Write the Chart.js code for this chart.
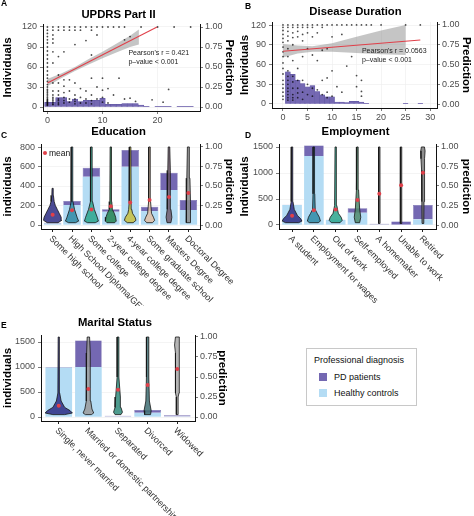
<!DOCTYPE html>
<html>
<head>
<meta charset="utf-8">
<script src="https://cdn.jsdelivr.net/npm/chart.js@4.4.0/dist/chart.umd.min.js"></script>
<style>
  body { margin: 0; background: #fff; font-family: "Liberation Sans", Arial, sans-serif; }
  #wrap { position: relative; width: 474px; height: 516px; overflow: hidden; }
  canvas { position: absolute; }
  .tag { position: absolute; font-weight: bold; font-size: 8.5px; line-height: 1; }
  .key { position: absolute; font-size: 9px; line-height: 1; color: #111; white-space: nowrap; }
  .sw { position: absolute; width: 8px; height: 8px; }
</style>
</head>
<body>
<div id="wrap">
  <canvas id="cA" width="237" height="128" style="left:0;top:0"></canvas>
  <canvas id="cB" width="237" height="128" style="left:237px;top:0"></canvas>
  <canvas id="cC" width="237" height="186" style="left:0;top:120px"></canvas>
  <canvas id="cD" width="237" height="186" style="left:237px;top:120px"></canvas>
  <canvas id="cE" width="230" height="206" style="left:0;top:310px"></canvas>

  <div class="tag" style="left:1px;top:-1px">A</div>
  <div class="tag" style="left:245px;top:2px">B</div>
  <div class="tag" style="left:1px;top:131px">C</div>
  <div class="tag" style="left:245px;top:131px">D</div>
  <div class="tag" style="left:1px;top:321px">E</div>

  <!-- mean key of panel C -->
  <div style="position:absolute;left:43px;top:151px;width:4px;height:4px;border-radius:2px;background:#e0404a"></div>
  <div class="key" style="left:49px;top:148.5px;font-size:8.5px">mean</div>

  <!-- diagnosis legend -->
  <div style="position:absolute;left:306px;top:348px;width:109px;height:56px;border:1px solid #c8c8c8;background:#fff"></div>
  <div class="key" style="left:314px;top:356px">Professional diagnosis</div>
  <div class="sw" style="left:319px;top:373px;background:#7468b2"></div>
  <div class="key" style="left:334px;top:373px">PD patients</div>
  <div class="sw" style="left:319px;top:389px;background:#b4dcf4"></div>
  <div class="key" style="left:334px;top:389px">Healthy controls</div>
</div>

<script>
const $ = id => document.getElementById(id);
const FONT = '"Liberation Sans", Arial, sans-serif';
const PURPLE = '#7468b2', LIGHT = '#b4dcf4', RED = '#e0404a', INK = '#4d4d4d';
const DOT = 'rgba(0,0,0,0.7)', BAND = 'rgba(140,140,140,0.5)';
const predTicks = [0, 0.25, 0.5, 0.75, 1];

// A: UPDRS Part II
const updrsTicks = [0, 10, 20];
const updrsYTicks = [0, 30, 60, 90, 120];
const updrsBins = [0,1,2,3,4,5,6,7,8,9,10,11,12,13,14,15,16,17,18,19,20,21,22,23,24,25,26];
const updrsCounts = [7,7,14,14,8,12,8,10,10,10,13,4,4,4,5,5,5,3,1,0,1,1,1,0,1,1,1];
const updrsFitX = [0, 19.9];
const updrsFitY = [0.30, 1.0];
const updrsBandX = [0, 2.5, 5, 7.5, 10, 12.5, 15, 16.6];
const updrsBandLo = [0.26, 0.36, 0.45, 0.53, 0.61, 0.68, 0.75, 0.78];
const updrsBandHi = [0.35, 0.42, 0.50, 0.60, 0.69, 0.79, 0.89, 0.97];
const updrsPoints = [
  [0, [1,0.96,0.92,0.88,0.84,0.8,0.75,0.7,0.65,0.6,0.55,0.5,0.45,0.4,0.36,0.32,0.28,0.25,0.22,0.2,0.18,0.16,0.14,0.12,0.1,0.09,0.08,0.07,0.06,0.05,0.04,0.03,0.02]],
  [1, [1,0.96,0.9,0.85,0.8,0.69,0.55,0.3,0.2,0.15,0.12,0.1,0.08,0.06,0.04,0.03]],
  [2, [1,0.96,0.63,0.4,0.3,0.2,0.15,0.1,0.08,0.05,0.03]],
  [3, [1,0.96,0.69,0.34,0.26,0.18,0.12,0.08,0.05]],
  [4, [1,0.96,0.34,0.2,0.1,0.06]],
  [5, [1,0.96,0.78,0.3,0.15,0.1,0.07,0.04]],
  [6, [1,0.96,0.23,0.12,0.05]],
  [7, [1,0.83,0.2,0.1,0.05]],
  [8, [1,0.96,0.65,0.36,0.15,0.08,0.04]],
  [9, [1,0.9,0.25,0.1]],
  [10, [1,0.36,0.21,0.12,0.06]],
  [11, [1,0.23,0.05]],
  [12, [1,0.15]],
  [13, [1,0.36]],
  [14, [1,0.84,0.1]],
  [15, [0.88,0.11]],
  [16, [0.07]],
  [17, [1]],
  [19, [0.09]],
  [20, [1]],
  [21, [0.06]],
  [22, [0.22]],
  [23, [1]],
  [26, [1]]
];

// B: Disease Duration
const durTicks = [0, 5, 10, 15, 20, 25, 30];
const durYTicks = [0, 30, 60, 90, 120];
const durBins = [1,2,3,4,5,6,7,8,9,10,11,12,13,14,15,16,17,25,28];
const durCounts = [49,45,36,31,26,28,19,14,11,11,3,3,2,4,4,3,1,1,1];
const durFitX = [0, 28];
const durFitY = [0.667, 0.81];
const durBandX = [0, 3, 6, 10, 15, 20, 25];
const durBandLo = [0.59, 0.64, 0.66, 0.66, 0.645, 0.63, 0.62];
const durBandHi = [0.76, 0.74, 0.73, 0.77, 0.85, 0.93, 1.0];
const durPoints = [
  [0, [1,0.97,0.93,0.88,0.83,0.78,0.72,0.66,0.6,0.52,0.45,0.38,0.3,0.25,0.2,0.15,0.1,0.06]],
  [1, [1,0.97,0.92,0.86,0.8,0.7,0.6,0.42,0.35,0.3,0.25,0.2,0.16,0.12,0.08,0.05]],
  [2, [1,0.97,0.9,0.84,0.75,0.55,0.35,0.28,0.2,0.12,0.08,0.05]],
  [3, [1,0.97,0.92,0.85,0.45,0.3,0.2,0.14,0.08]],
  [4, [1,0.97,0.88,0.8,0.6,0.3,0.15,0.06]],
  [5, [1,0.97,0.9,0.7,0.25,0.12]],
  [6, [1,0.97,0.85,0.62,0.2,0.1]],
  [7, [1,0.9,0.55,0.18]],
  [8, [1,0.97,0.68,0.3,0.12]],
  [9, [1,0.7,0.33,0.15,0.08]],
  [10, [1,0.85,0.42,0.1]],
  [11, [1,0.22]],
  [12, [1,0.88,0.15]],
  [13, [1,0.48]],
  [14, [1,0.6]],
  [15, [1,0.36,0.22]],
  [16, [1,0.3,0.16,0.1]],
  [17, [1]],
  [18, [1]],
  [20, [1]],
  [25, [1]],
  [28, [1]]
];

// C: Education
const eduLabels = ['Some high school','High School Diploma/GED','Some college','2-year college degree',
  '4-year college degree','Some graduate school','Masters Degree','Doctoral Degree'];
const eduYTicks = [0, 200, 400, 600, 800];
const eduHealthy = [15, 205, 496, 137, 598, 143, 359, 154];
const eduPD = [8, 41, 92, 24, 171, 45, 178, 102];
const eduMean = [0.13, 0.19, 0.2, 0.24, 0.29, 0.32, 0.36, 0.41];
const eduColors = ['#2b2c82','#2f8aa5','#2aa58c','#238250','#c9bf3e','#e2bfa6','#6e5a6c','#8c8c8c'];
const eduViolin = [
  [[0.03,0.28],[0.06,0.47],[0.1,0.44],[0.15,0.34],[0.2,0.24],[0.25,0.14],[0.3,0.08],[0.38,0.04],[0.47,0.03]],
  [[0.03,0.18],[0.05,0.34],[0.1,0.26],[0.2,0.13],[0.3,0.05],[0.5,0.04],[1.0,0.035]],
  [[0.03,0.2],[0.05,0.36],[0.1,0.3],[0.2,0.15],[0.3,0.06],[0.5,0.04],[1.0,0.035]],
  [[0.03,0.2],[0.05,0.28],[0.1,0.25],[0.15,0.18],[0.2,0.08],[0.3,0.05],[1.0,0.035]],
  [[0.03,0.15],[0.06,0.3],[0.1,0.25],[0.15,0.12],[0.2,0.08],[0.3,0.05],[1.0,0.035]],
  [[0.03,0.15],[0.06,0.26],[0.1,0.2],[0.15,0.1],[0.3,0.05],[1.0,0.035]],
  [[0.03,0.1],[0.1,0.15],[0.2,0.1],[0.5,0.08],[0.7,0.06],[1.0,0.04]],
  [[0.03,0.1],[0.1,0.12],[0.3,0.1],[0.6,0.08],[1.0,0.05]]
];

// D: Employment
const empLabels = ['A student','Employment for wages','Out of work','Self-employed','A homemaker','Unable to work','Retired'];
const empYTicks = [0, 500, 1000, 1500];
const empHealthy = [385, 1327, 96, 237, 8, 5, 109];
const empPD = [6, 200, 4, 84, 14, 60, 276];
const empMean = [0.12, 0.19, 0.2, 0.32, 0.4, 0.51, 0.67];
const empColors = ['#2b2c82','#2f8aa5','#2aa58c','#4f8a6c','#6a6a6a','#6a6a6a','#7a7a7a'];
const empViolin = [
  [[0.03,0.3],[0.05,0.45],[0.08,0.4],[0.12,0.25],[0.2,0.1],[0.3,0.04],[1.0,0.03]],
  [[0.03,0.2],[0.05,0.3],[0.1,0.25],[0.15,0.15],[0.2,0.06],[0.4,0.04],[1.0,0.03]],
  [[0.03,0.2],[0.06,0.3],[0.1,0.25],[0.15,0.12],[0.25,0.05],[1.0,0.03]],
  [[0.03,0.1],[0.1,0.15],[0.2,0.1],[0.45,0.05],[1.0,0.03]],
  [[0.02,0.035],[1.0,0.03]],
  [[0.02,0.035],[1.0,0.03]],
  [[0.02,0.04],[0.3,0.05],[0.7,0.06],[0.85,0.09],[0.95,0.1],[1.0,0.07]]
];

// E: Marital Status
const marLabels = ['Single, never married','Married or domestic partnership','Separated','Divorced','Widowed'];
const marYTicks = [0, 500, 1000, 1500];
const marHealthy = [990, 1000, 8, 86, 10];
const marPD = [12, 530, 18, 54, 25];
const marMean = [0.14, 0.35, 0.34, 0.4, 0.6];
const marColors = ['#2b2c82','#9a9a9a','#2f8a7a','#3f6f73','#a8a8a8'];
const marViolin = [
  [[0.03,0.2],[0.05,0.46],[0.08,0.38],[0.12,0.2],[0.2,0.08],[0.3,0.03],[1.0,0.02]],
  [[0.03,0.1],[0.05,0.18],[0.1,0.12],[0.2,0.08],[0.3,0.06],[0.6,0.07],[0.8,0.06],[1.0,0.04]],
  [[0.03,0.1],[0.06,0.15],[0.12,0.1],[0.25,0.08],[0.35,0.06],[0.5,0.03],[1.0,0.03]],
  [[0.03,0.1],[0.08,0.12],[0.2,0.06],[0.5,0.04],[1.0,0.04]],
  [[0.03,0.03],[0.25,0.03],[0.3,0.06],[0.8,0.06],[0.9,0.09],[1.0,0.06]]
];

// helpers
function flatPoints(cols) {
  const out = [];
  cols.forEach(([x, ys]) => ys.forEach(y => out.push({x, y})));
  return out;
}
function band(xs, lo, hi) {
  const top = xs.map((x, i) => ({x, y: hi[i]}));
  const bot = xs.map((x, i) => ({x, y: lo[i]})).reverse();
  return top.concat(bot);
}
function violinShape(center, prof) {
  const right = prof.map(([p, w]) => ({x: center + w, y: p}));
  const left = prof.slice().reverse().map(([p, w]) => ({x: center - w, y: p}));
  return right.concat(left, [right[0]]);
}

function yAxis(side, min, max, ticks, title, width, fmt) {
  const left = side === 'left';
  return {
    type: 'linear', position: side, min, max,
    afterBuildTicks: s => { s.ticks = ticks.map(v => ({value: v})); },
    afterFit: s => { s.width = width; },
    ticks: {font: {family: FONT, size: 9}, color: INK, padding: left ? 3 : 2, callback: fmt},
    grid: {drawOnChartArea: left, color: '#ececec', lineWidth: 0.6, tickColor: '#222', tickLength: 3},
    border: {color: '#111', width: 1},
    title: {display: true, text: title, color: '#000', padding: {top: 1, bottom: 0},
            font: {family: FONT, size: 11.5, weight: 'bold'}}
  };
}
function numAxis(min, max, ticks, height) {
  return {
    type: 'linear', position: 'bottom', min, max, offset: false,
    afterBuildTicks: s => { s.ticks = ticks.map(v => ({value: v})); },
    afterFit: s => { s.height = height; },
    ticks: {font: {family: FONT, size: 9}, color: INK, padding: 1, maxRotation: 0},
    grid: {offset: false, color: '#ececec', lineWidth: 0.6, tickColor: '#222', tickLength: 3},
    border: {color: '#111', width: 1}
  };
}
function catAxis(n, height) {
  return {
    type: 'linear', position: 'bottom', min: 0.4, max: n + 0.6, offset: false,
    afterBuildTicks: s => { s.ticks = Array.from({length: n}, (_, i) => ({value: i + 1})); },
    afterFit: s => { s.height = height; },
    ticks: {display: false},
    grid: {offset: false, color: 'rgba(0,0,0,0)', tickColor: '#222', tickLength: 3},
    border: {color: '#111', width: 1}
  };
}
function titleOpt(text, top, bottom) {
  return {display: true, text, color: '#000', padding: {top, bottom},
          font: {family: FONT, size: 11.3, weight: 'bold', lineHeight: 1}};
}

// notes in data coordinates and slanted category labels
const panelText = {
  id: 'panelText',
  afterDraw(chart, args, opts) {
    const {ctx, chartArea, scales} = chart;
    ctx.save();
    ctx.fillStyle = '#222';
    ctx.font = '7px ' + FONT;
    ctx.textAlign = 'left';
    ctx.textBaseline = 'middle';
    (opts.notes || []).forEach(n => {
      ctx.fillText(n.text, scales.x.getPixelForValue(n.x), scales.yR.getPixelForValue(n.y));
    });
    ctx.font = '9px ' + FONT;
    ctx.fillStyle = '#333';
    ctx.textBaseline = 'top';
    (opts.slant || []).forEach((lab, i) => {
      ctx.save();
      ctx.translate(scales.x.getPixelForValue(i + 1) + 1, chartArea.bottom + 5);
      ctx.rotate(Math.PI / 4);
      ctx.fillText(lab, 0, 0);
      ctx.restore();
    });
    ctx.restore();
  }
};

const base = {responsive: false, animation: false, events: [], devicePixelRatio: 1};

function scatterPanel(id, o) {
  return new Chart($(id), {
    type: 'bar',
    data: {datasets: [
      {type: 'bar', data: o.bins.map((x, i) => ({x, y: o.counts[i]})), yAxisID: 'yL',
       backgroundColor: PURPLE, borderColor: '#5e54a0', borderWidth: 0.4,
       grouped: false, barPercentage: 1, categoryPercentage: 1, order: 4},
      {type: 'line', data: band(o.bandX, o.bandLo, o.bandHi), yAxisID: 'yR',
       backgroundColor: BAND, borderWidth: 0, pointRadius: 0, fill: 'shape', order: 3},
      {type: 'scatter', data: flatPoints(o.points), yAxisID: 'yR',
       backgroundColor: DOT, borderWidth: 0, pointRadius: 0.9, order: 2},
      {type: 'line', data: o.fitX.map((x, i) => ({x, y: o.fitY[i]})), yAxisID: 'yR',
       borderColor: RED, borderWidth: 1.1, pointRadius: 0, fill: false, order: 1}
    ]},
    options: Object.assign({}, base, {
      scales: {
        x: numAxis(o.xMin, o.xMax, o.xTicks, o.xH),
        yL: yAxis('left', o.lMin, o.lMax, o.yTicks, 'Individuals', o.lW, v => v),
        yR: yAxis('right', -0.05, 1.0375, predTicks, 'Prediction', o.rW, v => v.toFixed(2))
      },
      plugins: {legend: {display: false}, tooltip: {enabled: false},
                title: titleOpt(o.title, o.tTop, o.tBot),
                panelText: {notes: o.notes}}
    }),
    plugins: [panelText]
  });
}

function violinPanel(id, o) {
  const n = o.labels.length;
  const sets = [
    {type: 'bar', data: o.healthy.map((v, i) => ({x: i + 1, y: v})), yAxisID: 'yL',
     backgroundColor: LIGHT, grouped: false, barPercentage: 0.9, categoryPercentage: 1, order: 4},
    {type: 'bar', data: o.pd.map((v, i) => ({x: i + 1, y: [o.healthy[i], o.healthy[i] + v]})), yAxisID: 'yL',
     backgroundColor: PURPLE, borderColor: '#5e54a0', borderWidth: 0.5,
     grouped: false, barPercentage: 0.9, categoryPercentage: 1, order: 3}
  ];
  o.violins.forEach((prof, i) => sets.push({
    type: 'line', data: violinShape(i + 1, prof), yAxisID: 'yR',
    backgroundColor: o.colors[i] + 'd9', borderColor: '#151515', borderWidth: 0.8,
    pointRadius: 0, fill: 'shape', order: 1
  }));
  sets.push({type: 'scatter', data: o.mean.map((m, i) => ({x: i + 1, y: m})), yAxisID: 'yR',
    backgroundColor: RED, borderWidth: 0, pointRadius: 2, order: 0});
  return new Chart($(id), {
    type: 'bar',
    data: {datasets: sets},
    options: Object.assign({}, base, {
      scales: {
        x: catAxis(n, o.xH),
        yL: yAxis('left', o.lMin, o.lMax, o.yTicks, o.lTitle, o.lW, v => v),
        yR: yAxis('right', o.rMin, o.rMax, predTicks, 'prediction', o.rW, v => v.toFixed(2))
      },
      plugins: {legend: {display: false}, tooltip: {enabled: false},
                title: titleOpt(o.title, o.tTop, o.tBot),
                panelText: {slant: o.labels}}
    }),
    plugins: [panelText]
  });
}

scatterPanel('cA', {
  title: 'UPDRS Part II', tTop: 9, tBot: 3.7,
  bins: updrsBins, counts: updrsCounts, points: updrsPoints,
  fitX: updrsFitX, fitY: updrsFitY, bandX: updrsBandX, bandLo: updrsBandLo, bandHi: updrsBandHi,
  xMin: -0.8, xMax: 27.7, xTicks: updrsTicks, xH: 17,
  lMin: -6, lMax: 124.5, yTicks: updrsYTicks, lW: 43, rW: 37,
  notes: [{x: 14.7, y: 0.67, text: "Pearson's r = 0.421"}, {x: 14.7, y: 0.56, text: 'p\u2013value < 0.001'}]
});

scatterPanel('cB', {
  title: 'Disease Duration', tTop: 6.4, tBot: 4.3,
  bins: durBins, counts: durCounts, points: durPoints,
  fitX: durFitX, fitY: durFitY, bandX: durBandX, bandLo: durBandLo, bandHi: durBandHi,
  xMin: -2.24, xMax: 31.4, xTicks: durTicks, xH: 20,
  lMin: -6.1, lMax: 124.6, yTicks: durYTicks, lW: 35, rW: 37,
  notes: [{x: 16.1, y: 0.665, text: "Pearson's r = 0.0563"}, {x: 16.1, y: 0.56, text: 'p\u2013value < 0.001'}]
});

violinPanel('cC', {
  title: 'Education', tTop: 5.9, tBot: 6.8,
  labels: eduLabels, healthy: eduHealthy, pd: eduPD, mean: eduMean, colors: eduColors, violins: eduViolin,
  lMin: -41, lMax: 831, yTicks: eduYTicks, lTitle: 'individuals', lW: 41,
  rMin: -0.051, rMax: 1.038, rW: 37, xH: 77
});

violinPanel('cD', {
  title: 'Employment', tTop: 5.9, tBot: 6.8,
  labels: empLabels, healthy: empHealthy, pd: empPD, mean: empMean, colors: empColors, violins: empViolin,
  lMin: -77, lMax: 1558, yTicks: empYTicks, lTitle: 'Individuals', lW: 42,
  rMin: -0.051, rMax: 1.038, rW: 38, xH: 77
});

violinPanel('cE', {
  title: 'Marital Status', tTop: 6.9, tBot: 6.8,
  labels: marLabels, healthy: marHealthy, pd: marPD, mean: marMean, colors: marColors, violins: marViolin,
  lMin: -80, lMax: 1640, yTicks: marYTicks, lTitle: 'individuals', lW: 41,
  rMin: -0.05, rMax: 1.025, rW: 35, xH: 95
});
</script>
</body>
</html>
